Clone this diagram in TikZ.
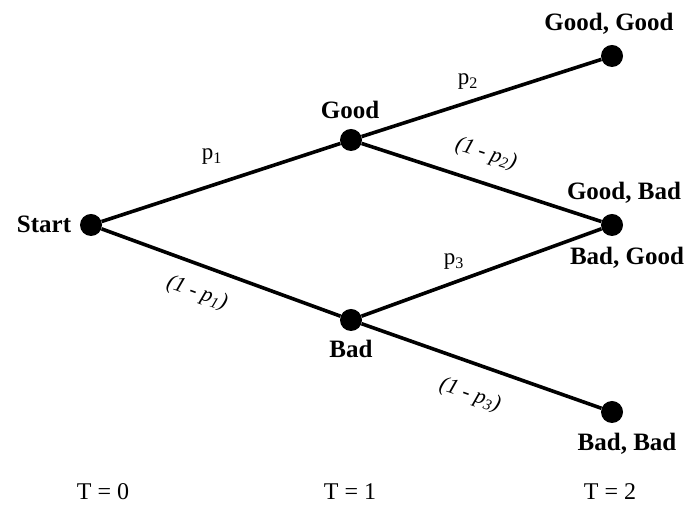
\documentclass[tikz,border=0pt]{standalone}
\usepackage{fontspec}
\setmainfont{Liberation Serif}
\usetikzlibrary{calc}
\begin{document}
\begin{tikzpicture}[x=1pt,y=1pt,
  dot/.style={circle,fill=black,inner sep=0pt,minimum size=22pt},
  branch/.style={line width=3.6pt,black},
  statelab/.style={inner sep=0pt,anchor=base,font=\fontsize{25}{28}\selectfont\bfseries},
  problab/.style={inner sep=0pt,anchor=base,font=\fontsize{23}{26}\selectfont},
  iproblab/.style={inner sep=0pt,font=\fontsize{22}{26}\selectfont\itshape},
  timelab/.style={inner sep=0pt,anchor=base,font=\fontsize{24}{28}\selectfont}]
\useasboundingbox (0,0) rectangle (691,505);
\fill[white] (0,0) rectangle (691,505);
% dots
\node[dot] (start) at (91,280) {};
\node[dot] (good) at (351,365) {};
\node[dot] (bad) at (351,185) {};
\node[dot] (gg) at (612,449) {};
\node[dot] (mid) at (612,280) {};
\node[dot] (bb) at (612,93) {};
% branches
\draw[branch] (start) -- (good);
\draw[branch] (start) -- (bad);
\draw[branch] (good) -- (gg);
\draw[branch] (good) -- (mid);
\draw[branch] (bad) -- (mid);
\draw[branch] (bad) -- (bb);
% state labels
\node[statelab] (lstart) at ($(start)+(-47,-8)$) {Start};
\node[statelab] (lgood) at ($(good)+(-1,21)$) {Good};
\node[statelab] (lbad) at ($(bad)+(0,-38)$) {Bad};
\node[statelab] (lgg) at ($(gg)+(-3,25)$) {Good, Good};
\node[statelab] (lgb) at ($(mid)+(12,25)$) {Good, Bad};
\node[statelab] (lbg) at ($(mid)+(15,-40)$) {Bad, Good};
\node[statelab] (lbb) at ($(bb)+(15,-39)$) {Bad, Bad};
% probability labels
\node[problab] (lp1) at ($(start)+(121,65)$) {p\textsubscript{1}};
\node[iproblab,rotate=-20.1] (lq1) at ($(start)+(106,-68)$) {(1 - p\textsubscript{1})};
\node[problab] (lp2) at ($(good)+(117,55)$) {p\textsubscript{2}};
\node[iproblab,rotate=-18.0] (lq2) at ($(good)+(135,-14)$) {(1 - p\textsubscript{2})};
\node[problab] (lp3) at ($(bad)+(103,55)$) {p\textsubscript{3}};
\node[iproblab,rotate=-19.4] (lq3) at ($(bad)+(119,-75)$) {(1 - p\textsubscript{3})};
% time labels
\node[timelab] (t0) at (103,5) {T = 0};
\node[timelab] (t1) at (350,5) {T = 1};
\node[timelab] (t2) at (610,5) {T = 2};
\end{tikzpicture}
\end{document}
